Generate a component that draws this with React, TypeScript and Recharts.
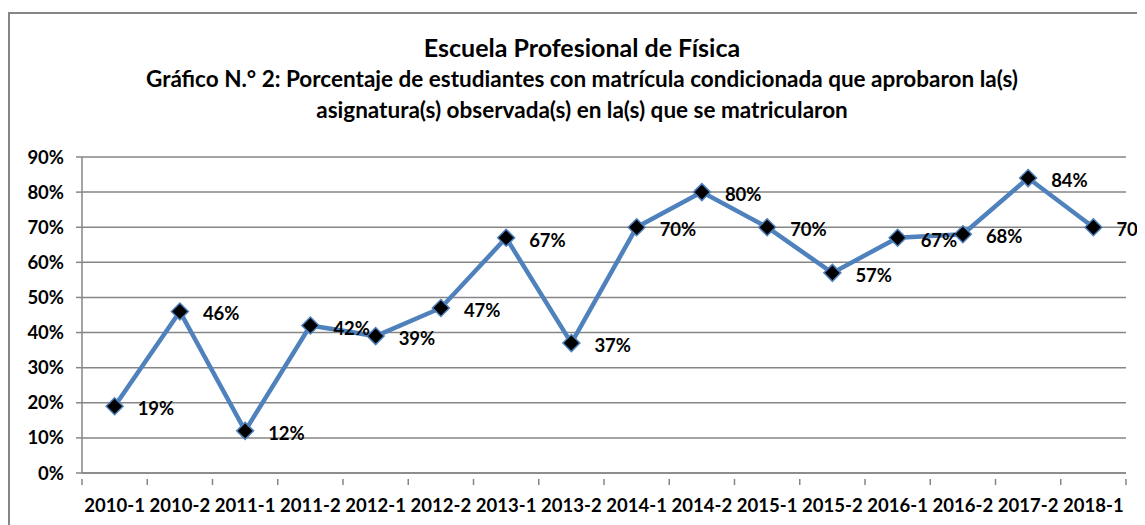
import React from 'react';
import { LineChart, Line, XAxis, YAxis, CartesianGrid, LabelList } from 'recharts';

const periods = [
  '2010-1', '2010-2', '2011-1', '2011-2', '2012-1', '2012-2', '2013-1', '2013-2',
  '2014-1', '2014-2', '2015-1', '2015-2', '2016-1', '2016-2', '2017-2', '2018-1',
];
const approvedPct = [19, 46, 12, 42, 39, 47, 67, 37, 70, 80, 70, 57, 67, 68, 84, 70];
const yTicks = [0, 10, 20, 30, 40, 50, 60, 70, 80, 90];

const data = periods.map((p, i) => ({ period: p, pct: approvedPct[i] }));

const FONT = 'Lato, "Open Sans", sans-serif';
const GRID = '#868686';
const BLUE = '#4F81BD';

const CHART_W = 1137;
const CHART_H = 513;
const MARGIN = { top: 145, right: 19, left: 8, bottom: 12 };
const Y_W = 66;
const BAND = (CHART_W - MARGIN.left - MARGIN.right - Y_W) / periods.length;

const Diamond = (props: any) => {
  const { cx, cy } = props;
  if (cx == null || cy == null) return null;
  const r = 8.5;
  return (
    <path
      d={`M${cx},${cy - r} L${cx + r},${cy} L${cx},${cy + r} L${cx - r},${cy} Z`}
      fill="#000"
      stroke={BLUE}
      strokeWidth={1.5}
    />
  );
};

const PctLabel = (props: any) => {
  const { x, y, value } = props;
  return (
    <text
      x={x + 23}
      y={y + 2}
      dominantBaseline="central"
      fontFamily={FONT}
      fontWeight={700}
      fontSize={18.5}
      fill="#000"
    >
      {value}%
    </text>
  );
};

// category label plus a tick mark on the boundary between categories
const PeriodTick = (props: any) => {
  const { x, y, payload, index } = props;
  const axisY = y - 20;
  const isLast = index === periods.length - 1;
  return (
    <g>
      <line x1={x - BAND / 2} x2={x - BAND / 2} y1={axisY} y2={axisY + 6} stroke={GRID} strokeWidth={1.5} />
      {isLast && (
        <line x1={x + BAND / 2} x2={x + BAND / 2} y1={axisY} y2={axisY + 6} stroke={GRID} strokeWidth={1.5} />
      )}
      <text
        x={x}
        y={y}
        dy="0.71em"
        textAnchor="middle"
        fontFamily={FONT}
        fontWeight={700}
        fontSize={18.5}
        fill="#000"
      >
        {payload.value}
      </text>
    </g>
  );
};

const App: React.FC = () => {
  return (
    <div style={{ position: 'relative', width: CHART_W, height: CHART_H, marginTop: 4, fontFamily: FONT }}>
      <div
        style={{
          position: 'absolute',
          left: 0,
          top: 0,
          width: 1200,
          height: 600,
          borderTop: `2px solid ${GRID}`,
          borderLeft: `2px solid ${GRID}`,
        }}
      />
      <div
        style={{
          position: 'absolute',
          left: 0,
          width: 1148,
          top: 20,
          textAlign: 'center',
          fontWeight: 700,
          color: '#000',
          lineHeight: '31px',
        }}
      >
        <div style={{ fontSize: 25 }}>Escuela Profesional de Física</div>
        <div style={{ fontSize: 22.5 }}>
          Gráfico N.° 2: Porcentaje de estudiantes con matrícula condicionada que aprobaron la(s)
        </div>
        <div style={{ fontSize: 22.5 }}>asignatura(s) observada(s) en la(s) que se matricularon</div>
      </div>
      <div style={{ position: 'absolute', left: 0, top: 0 }}>
        <LineChart width={CHART_W} height={CHART_H} data={data} margin={MARGIN}>
          <CartesianGrid vertical={false} stroke={GRID} strokeWidth={1.5} />
          <XAxis
            dataKey="period"
            scale="band"
            interval={0}
            tickLine={false}
            axisLine={{ stroke: GRID, strokeWidth: 1.5 }}
            tick={<PeriodTick />}
            tickMargin={20}
            height={40}
          />
          <YAxis
            domain={[0, 90]}
            ticks={yTicks}
            interval={0}
            tickFormatter={(v: number) => `${v}%`}
            axisLine={{ stroke: GRID, strokeWidth: 1.5 }}
            tickLine={{ stroke: GRID, strokeWidth: 1.5 }}
            tickSize={6}
            tickMargin={12}
            tick={{ fontFamily: FONT, fontWeight: 700, fontSize: 18.5, fill: '#000' }}
            width={Y_W}
          />
          <Line
            dataKey="pct"
            stroke={BLUE}
            strokeWidth={4.5}
            dot={<Diamond />}
            activeDot={false}
            isAnimationActive={false}
          >
            <LabelList dataKey="pct" content={<PctLabel />} />
          </Line>
        </LineChart>
      </div>
    </div>
  );
};

export default App;
